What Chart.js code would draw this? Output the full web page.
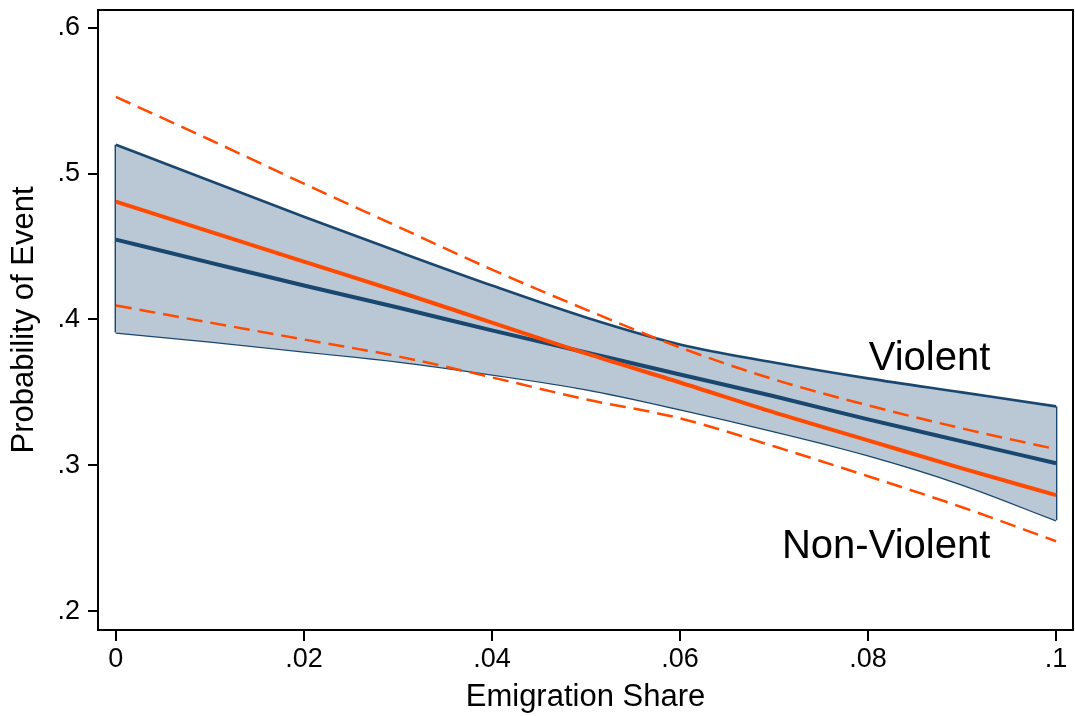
<!DOCTYPE html>
<html>
<head>
<meta charset="utf-8">
<script src="https://cdn.jsdelivr.net/npm/chart.js@4.4.1/dist/chart.umd.min.js"></script>
<style>
  html, body { margin: 0; padding: 0; background: #fff; }
  #wrap { width: 1075px; height: 716px; position: relative; }
</style>
</head>
<body>
<div id="wrap"><canvas id="chart"></canvas></div>
<script>
const emigrationShare = [0, 0.01, 0.02, 0.03, 0.04, 0.05, 0.06, 0.07, 0.08, 0.09, 0.1];

const violentMean  = [0.4548, 0.4390, 0.4233, 0.4082, 0.3925, 0.3774, 0.3623, 0.3473, 0.3315, 0.3164, 0.3014];
const violentUpper = [0.5199, 0.4952, 0.4705, 0.4466, 0.4233, 0.4014, 0.3829, 0.3705, 0.3596, 0.3500, 0.3404];
const violentLower = [0.3911, 0.3849, 0.3781, 0.3712, 0.3623, 0.3521, 0.3384, 0.3233, 0.3068, 0.2868, 0.2623];

const nonViolentMean  = [0.4808, 0.4603, 0.4397, 0.4192, 0.3979, 0.3767, 0.3568, 0.3363, 0.3171, 0.2979, 0.2795];
const nonViolentUpper = [0.5527, 0.5233, 0.4932, 0.4637, 0.4342, 0.4068, 0.3808, 0.3589, 0.3411, 0.3253, 0.3110];
const nonViolentLower = [0.4096, 0.3979, 0.3863, 0.3747, 0.3603, 0.3452, 0.3322, 0.3130, 0.2925, 0.2712, 0.2479];

const xTicks = [0, 0.02, 0.04, 0.06, 0.08, 0.1];
const yTicks = [0.2, 0.3, 0.4, 0.5, 0.6];

const lineLabels = [
  { text: "Violent", x: 0.093, y: 0.3727 },
  { text: "Non-Violent", x: 0.093, y: 0.2437 },
];

const NAVY = "#1a476f";
const BAND = "#b9c8d4";
const ORANGE = "#ff4a00";
const FONT = "'Liberation Sans', Arial, Helvetica, sans-serif";

const pts = (ys) => ys.map((y, i) => ({ x: emigrationShare[i], y }));
const last = emigrationShare.length - 1;

function fmt(v) {
  const s = String(+v.toFixed(2));
  return s.startsWith("0.") ? s.slice(1) : s;
}

const framePlugin = {
  id: "frame",
  afterDatasetsDraw(chart) {
    const { ctx, chartArea: a, scales } = chart;
    ctx.save();
    ctx.strokeStyle = "#000";
    ctx.lineWidth = 2;
    ctx.strokeRect(a.left, a.top, a.right - a.left, a.bottom - a.top);
    ctx.fillStyle = "#000";
    ctx.font = `40px ${FONT}`;
    ctx.textAlign = "right";
    ctx.textBaseline = "middle";
    lineLabels.forEach((l) => {
      ctx.fillText(l.text, scales.x.getPixelForValue(l.x), scales.y.getPixelForValue(l.y));
    });
    ctx.restore();
  },
};

const lineDs = (data, color, width, extra = {}) => ({
  data,
  borderColor: color,
  borderWidth: width,
  pointRadius: 0,
  fill: false,
  cubicInterpolationMode: "monotone",
  ...extra,
});

new Chart(document.getElementById("chart"), {
  type: "line",
  data: {
    datasets: [
      lineDs(pts(nonViolentMean), ORANGE, 4),
      lineDs(pts(nonViolentUpper), ORANGE, 2.5, { borderDash: [16, 8] }),
      lineDs(pts(nonViolentLower), ORANGE, 2.5, { borderDash: [16, 8] }),
      lineDs(pts(violentMean), NAVY, 4),
      lineDs(pts(violentUpper), NAVY, 2.6, { fill: "+1", backgroundColor: BAND }),
      lineDs(pts(violentLower), NAVY, 2.6),
      lineDs([{ x: emigrationShare[0], y: violentLower[0] }, { x: emigrationShare[0], y: violentUpper[0] }], NAVY, 2.6),
      lineDs([{ x: emigrationShare[last], y: violentLower[last] }, { x: emigrationShare[last], y: violentUpper[last] }], NAVY, 2.6),
    ],
  },
  options: {
    responsive: true,
    maintainAspectRatio: false,
    animation: false,
    layout: { padding: { top: 10, right: 2, left: 0, bottom: 0 } },
    plugins: { legend: { display: false }, tooltip: { enabled: false } },
    scales: {
      x: {
        type: "linear",
        min: -0.0019,
        max: 0.1018,
        afterBuildTicks: (s) => { s.ticks = xTicks.map((v) => ({ value: v })); },
        afterFit: (s) => { s.height = 86; s.paddingLeft = 0; s.paddingRight = 0; },
        border: { display: false },
        grid: { drawOnChartArea: false, color: "#000", lineWidth: 2, tickLength: 11 },
        ticks: { color: "#000", font: { family: FONT, size: 27 }, padding: 2, maxRotation: 0, callback: (v) => fmt(v) },
        title: { display: true, text: "Emigration Share", color: "#000", font: { family: FONT, size: 31 }, padding: { top: 0, bottom: 0 } },
      },
      y: {
        type: "linear",
        min: 0.187,
        max: 0.6123,
        afterBuildTicks: (s) => { s.ticks = yTicks.map((v) => ({ value: v })); },
        afterFit: (s) => { s.width = 98; s.paddingTop = 0; s.paddingBottom = 0; },
        border: { display: false },
        grid: { drawOnChartArea: false, color: "#000", lineWidth: 2, tickLength: 10 },
        ticks: { color: "#000", font: { family: FONT, size: 27 }, padding: 8, callback: (v) => fmt(v) },
        title: { display: true, text: "Probability of Event", color: "#000", font: { family: FONT, size: 31 }, padding: { top: 6, bottom: 0 } },
      },
    },
  },
  plugins: [framePlugin],
});
</script>
</body>
</html>
